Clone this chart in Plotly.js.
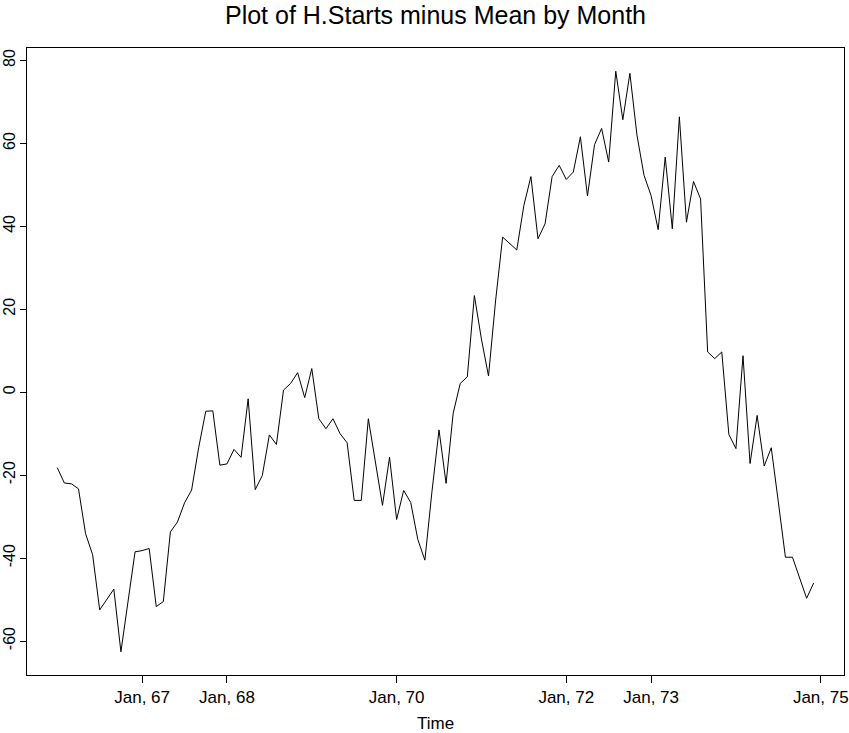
<!DOCTYPE html>
<html>
<head>
<meta charset="utf-8">
<script src="https://cdn.plot.ly/plotly-3.0.1.min.js"></script>
<style>
html, body {margin:0; padding:0; background:#fff;}
#plot {width:849px; height:733px;}
</style>
</head>
<body>
<div id="plot"></div>
<script>
// Housing starts minus monthly mean, Jan 1966 - Dec 1974.
var start_year = 1966;
var hstarts = [
-18.2, -21.9, -22.1, -23.3, -34.1, -39.2, -52.5, -50.0, -47.5, -62.6, -50.6, -38.5,
-38.2, -37.7, -51.7, -50.5, -33.7, -31.3, -26.7, -23.6, -13.4, -4.6, -4.5, -17.6,
-17.3, -13.8, -15.7, -1.6, -23.5, -20.1, -10.3, -12.6, 0.5, 2.1, 4.7, -1.3,
5.7, -6.4, -8.8, -6.4, -10.0, -12.2, -26.1, -26.1, -6.4, -16.8, -27.3, -15.7,
-30.7, -23.7, -26.6, -35.5, -40.5, -24.0, -9.1, -22.0, -5.1, 2.1, 3.7, 23.3,
12.8, 3.9, 22.0, 37.4, 35.8, 34.3, 45.0, 52.0, 37.0, 40.6, 52.0, 54.7,
51.3, 53.1, 61.6, 47.3, 59.7, 63.6, 55.5, 77.4, 65.7, 76.9, 62.0, 52.3,
47.4, 39.2, 56.7, 39.4, 66.4, 41.0, 50.8, 46.6, 9.7, 8.1, 9.7, -10.2,
-13.6, 8.8, -17.2, -5.6, -17.8, -13.4, -26.5, -39.8, -39.8, -44.8, -49.7, -46.0
];
var x_tick_vals = [1967, 1968, 1970, 1972, 1973, 1975];
var x_tick_text = ['Jan, 67', 'Jan, 68', 'Jan, 70', 'Jan, 72', 'Jan, 73', 'Jan, 75'];
var y_tick_vals = [-60, -40, -20, 0, 20, 40, 60, 80];
var y_tick_text = ['-60', '-40', '-20', '0', '20', '40', '60', '80'];

// monthly time index
var months = hstarts.map(function(v, i){ return start_year + i/12; });

var font_family = 'Liberation Sans, Arial, sans-serif';

var graph_data = [{
x: months,
y: hstarts,
type: 'scatter',
mode: 'lines',
line: {color: 'black', width: 1},
hoverinfo: 'skip',
showlegend: false
}];

var layout = {
width: 849,
height: 733,
margin: {l: 27, r: 5, t: 48, b: 58},
paper_bgcolor: 'white',
plot_bgcolor: 'white',
font: {family: font_family, color: 'black', size: 17},
title: {
text: 'Plot of H.Starts minus Mean by Month',
font: {size: 25, family: font_family, color: 'black'},
x: 0.5,
xref: 'paper',
y: 0.979,
yref: 'container',
yanchor: 'middle'
},
xaxis: {
range: [1965.643, 1975.274],
tickvals: x_tick_vals,
ticktext: x_tick_text,
ticks: 'outside',
ticklen: 7,
tickwidth: 1,
tickcolor: 'black',
showline: true,
linecolor: 'black',
linewidth: 1,
mirror: true,
showgrid: false,
zeroline: false,
tickfont: {size: 17}
},
yaxis: {
range: [-68.2, 83.0],
tickvals: y_tick_vals,
ticktext: y_tick_text,
tickangle: -90,
ticks: 'outside',
ticklen: 6,
tickwidth: 1,
tickcolor: 'black',
ticklabelstandoff: -1,
showline: true,
linecolor: 'black',
linewidth: 1,
mirror: true,
showgrid: false,
zeroline: false,
tickfont: {size: 16}
},
// x axis title placed as annotation so it can sit lower than the margin allows
annotations: [{
text: 'Time',
xref: 'paper',
yref: 'paper',
x: 0.5,
y: -0.0766,
xanchor: 'center',
yanchor: 'middle',
showarrow: false,
font: {size: 17, family: font_family, color: 'black'}
}]
};

var config = {displayModeBar: false, responsive: false, staticPlot: true};

Plotly.newPlot('plot', graph_data, layout, config);
</script>
</body>
</html>
